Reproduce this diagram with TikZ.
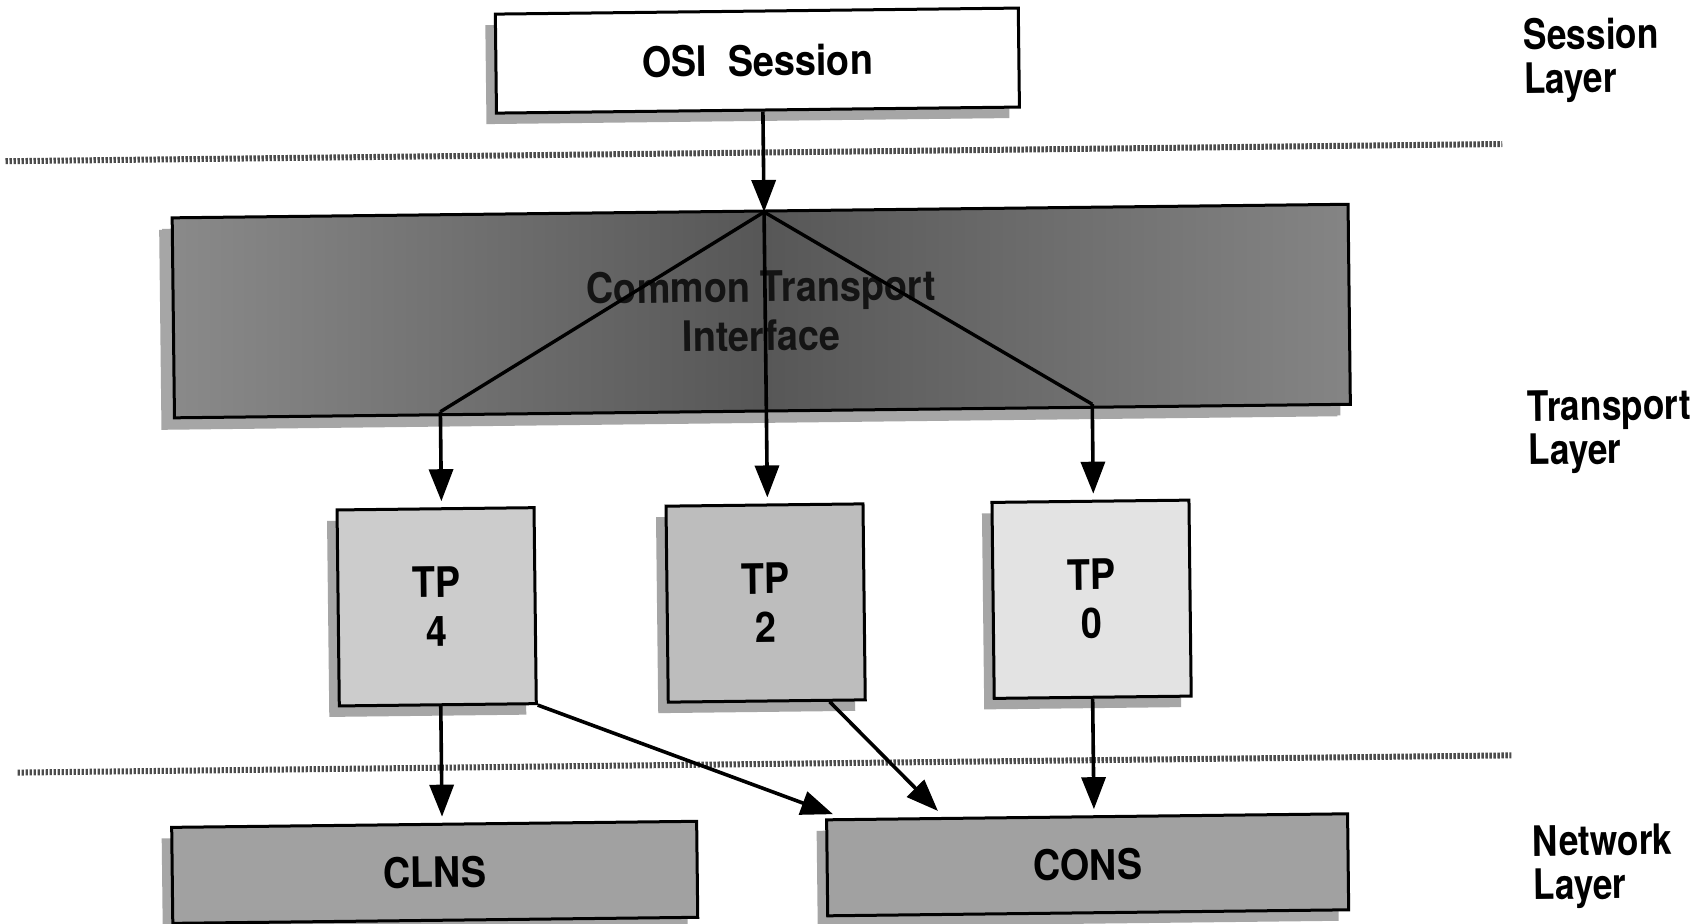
\documentclass[tikz,border=0pt]{standalone}
\usepackage{fontspec}
\newfontfamily\boxfont{TeX Gyre Heros}[FakeStretch=0.9]
\newfontfamily\sidefont{TeX Gyre Heros}[FakeStretch=0.84]
\usetikzlibrary{arrows.meta,shadows}

\tikzset{
  unit box/.style={draw=black, line width=1.5pt, inner sep=0pt, align=center,
    font=\boxfont\bfseries\fontsize{21}{24.5}\selectfont, transform shape,
    drop shadow={shadow xshift=-5pt, shadow yshift=-5.5pt, fill=black!35, opacity=1}},
  link/.style={line width=1.8pt, -{Triangle[length=16pt,width=12pt]}},
  gap/.style={shorten >=3pt},
  fan/.style={line width=1.7pt},
  layer rule/.style={draw=black!70, line width=3pt, dash pattern=on 1.2pt off 0.8pt},
  layer name/.style={anchor=north west, align=left, inner sep=0pt, transform shape,
    font=\sidefont\bfseries\fontsize{21}{21.8}\selectfont},
}

\begin{document}
\begin{tikzpicture}[x=0.5pt,y=-0.5pt]
  \fill[white] (0,0) rectangle (1707,924);
  \useasboundingbox (0,0) rectangle (1707,924);

  \begin{scope}[rotate around={0.66:(853.5,462)}]
    % layer boundaries
    \coordinate (r1a) at (9,151.5);
    \coordinate (r1b) at (1506,151.5);
    \coordinate (r2a) at (14,763);
    \coordinate (r2b) at (1508,763);
    \draw[layer rule] (r1a) -- (r1b);
    \draw[layer rule] (r2a) -- (r2b);

    % session layer
    \node[unit box, fill=white, minimum width=261.5pt, minimum height=49.5pt]
      (osi) at (762,59.5) {OSI\ \ Session};

    % transport layer
    \node[unit box, left color=black!46, right color=black!48, middle color=black!66,
      minimum width=588pt, minimum height=100pt, text=black!92,
      drop shadow={shadow xshift=-6.5pt, shadow yshift=-6pt, fill=black!35, opacity=1}]
      (cti) at (763,310) {Common Transport\\Interface};

    \node[unit box, fill=black!20, minimum width=98.5pt, minimum height=98pt]
      (tp4) at (435,602) {TP\\4};
    \node[unit box, fill=black!26, minimum width=98.5pt, minimum height=98pt]
      (tp2) at (764,602) {TP\\2};
    \node[unit box, fill=black!11, minimum width=98.5pt, minimum height=98pt]
      (tp0) at (1090,602) {TP\\0};

    % network layer
    \node[unit box, fill=black!37, minimum width=262.5pt, minimum height=48pt]
      (clns) at (430,867.5) {CLNS};
    \node[unit box, fill=black!37, minimum width=260.5pt, minimum height=48pt]
      (cons) at (1083,867.5) {CONS};

    % fan-out inside the common interface
    \coordinate (apex) at (767,211);
    \coordinate (foot4) at (441,407);
    \coordinate (foot2) at (767,407);
    \coordinate (foot0) at (1093,407);
    \draw[link] (apex |- osi.south) -- (apex);
    \draw[fan] (foot4) -- (apex) -- (foot0);
    \draw[link, gap] (apex) -- (foot2 |- tp2.north);
    \draw[link, gap] (foot4) -- (foot4 |- tp4.north);
    \draw[link, gap] (foot0) -- (foot0 |- tp0.north);

    % protocol classes to network services
    \coordinate (t4end) at (829,814);
    \coordinate (t2end) at (934,812);
    \draw[link, gap] ([xshift=1.5pt]tp4.south) -- ([xshift=1.5pt]tp4.south |- clns.north);
    \draw[link] (tp4.south east) -- (t4end);
    \draw[link] ([xshift=31.5pt]tp2.south) -- (t2end);
    \draw[link, gap] (tp0.south) -- (tp0.south |- cons.north);

    % layer names
    \node[layer name] (lsess) at (1528,26) {Session\\Layer};
    \node[layer name] (ltrans) at (1528,398) {Transport\\Layer};
    \node[layer name] (lnet) at (1528,833) {Network\\Layer};
  \end{scope}
\end{tikzpicture}
\end{document}
